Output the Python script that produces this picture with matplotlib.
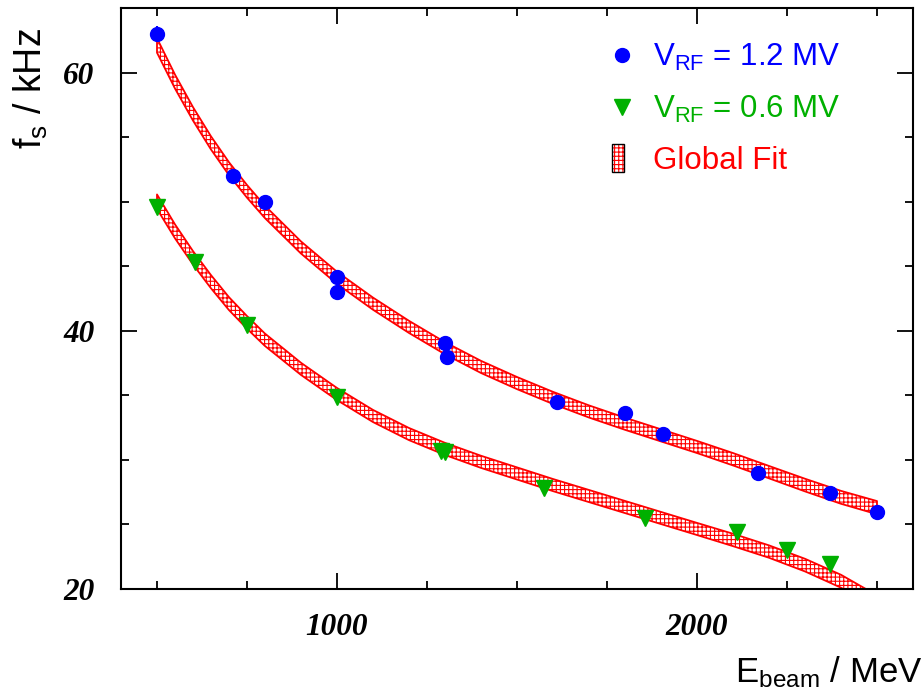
import matplotlib.pyplot as plt
from matplotlib.legend_handler import HandlerPatch, HandlerTuple
from matplotlib.patches import Rectangle

plt.rcParams["font.family"] = ["Liberation Sans", "DejaVu Sans"]
plt.rcParams["mathtext.fontset"] = "custom"
plt.rcParams["mathtext.rm"] = "Liberation Sans"
plt.rcParams["mathtext.it"] = "Liberation Sans:italic"
plt.rcParams["hatch.linewidth"] = 0.8

# measured synchrotron frequencies (MeV, kHz)
e_12 = [500, 710, 800, 1000, 1000, 1300, 1305, 1610, 1800, 1905, 2170, 2370, 2500]
fs_12 = [63.0, 52.0, 50.0, 44.2, 43.0, 39.05, 38.0, 34.5, 33.6, 32.0, 28.95, 27.45, 26.0]
err_12 = [0.6, 0.5, 0.5, 0.5, 0.5, 0.5, 0.5, 0.5, 0.5, 0.5, 0.5, 0.5, 0.5]

e_06 = [500, 605, 750, 1000, 1290, 1300, 1575, 1855, 2110, 2250, 2370]
fs_06 = [49.6, 45.3, 40.45, 34.85, 30.65, 30.6, 27.8, 25.5, 24.45, 23.05, 21.9]
err_06 = [0.5, 0.5, 0.5, 0.5, 0.5, 0.5, 0.5, 0.5, 0.5, 0.5, 0.5]

# global fit band
e_fit = [500, 550, 600, 650, 700, 750, 800, 900, 1000, 1100, 1200, 1300, 1400,
         1500, 1600, 1700, 1800, 1900, 2000, 2100, 2200, 2300, 2400, 2500]
fit_12 = [62.1, 59.3, 56.8, 54.55, 52.55, 50.8, 49.2, 46.45, 44.1, 42.1, 40.3, 38.65, 37.2,
          35.95, 34.8, 33.75, 32.8, 31.9, 31.0, 30.05, 29.05, 28.05, 27.1, 26.3]
fit_06 = [50.0, 47.7, 45.65, 43.8, 42.1, 40.65, 39.3, 37.05, 35.1, 33.4, 32.0, 30.85, 29.85,
          28.95, 28.05, 27.2, 26.35, 25.5, 24.65, 23.8, 22.9, 21.85, 20.6, 19.0]
fit_hw = [0.56, 0.54, 0.52, 0.51, 0.5, 0.49, 0.48, 0.47, 0.47, 0.47, 0.47, 0.47, 0.47,
          0.47, 0.47, 0.47, 0.47, 0.47, 0.47, 0.48, 0.48, 0.49, 0.5, 0.51]

x_major = [1000, 2000]
x_minor = [500, 750, 1250, 1500, 1750, 2250, 2500]
y_major = [20, 40, 60]
y_minor = [25, 30, 35, 45, 50, 55, 65]

BLUE = "#0000ff"
GREEN = "#00b000"
RED = "#ff0000"

fig = plt.figure(figsize=(9.24, 6.93), dpi=100)
ax = fig.add_axes([121 / 924, 1 - 589 / 693, 792 / 924, 581 / 693])

for f_fit in (fit_12, fit_06):
    lo = [f - h for f, h in zip(f_fit, fit_hw)]
    hi = [f + h for f, h in zip(f_fit, fit_hw)]
    ax.fill_between(e_fit, lo, hi, facecolor="none", edgecolor=RED,
                    hatch="++++", linewidth=1.3, zorder=2)

eb12 = ax.errorbar(e_12, fs_12, yerr=err_12, fmt="o", color=BLUE, ms=10,
                   elinewidth=1.5, capsize=0, zorder=3)
eb06 = ax.errorbar(e_06, fs_06, yerr=err_06, fmt="v", color=GREEN, ms=11,
                   elinewidth=1.5, capsize=0, zorder=3)

ax.set_xlim(400, 2600)
ax.set_ylim(20, 65)

tick_font = dict(family="Liberation Serif", weight="bold", style="italic", size=22.5)
ax.set_xticks(x_major)
ax.set_xticks(x_minor, minor=True)
ax.set_xticklabels([str(v) for v in x_major], fontdict=tick_font)
ax.set_yticks(y_major)
ax.set_yticks(y_minor, minor=True)
ax.set_yticklabels([str(v) for v in y_major], fontdict=tick_font)

ax.tick_params(which="both", direction="in", top=True, right=True, width=1.3)
ax.tick_params(which="major", length=11.5)
ax.tick_params(which="minor", length=5.5)
ax.tick_params(axis="x", pad=17.5)
ax.tick_params(axis="y", pad=19)
for sp in ax.spines.values():
    sp.set_linewidth(1.5)

fig.text(923 / 924, 1 - 682 / 693, r"E$_\mathregular{beam}$ / MeV", fontsize=25,
         ha="right", va="baseline")
fig.text(42 / 924, 1 - 28 / 693, r"f$_\mathregular{s}$ / kHz", fontsize=27,
         rotation=90, rotation_mode="anchor", ha="right", va="baseline")


def tall_box(legend, orig_handle, xdescent, ydescent, width, height, fontsize):
    w = 0.384 * fontsize
    h = 0.9 * fontsize
    return Rectangle((-xdescent + (width - w) / 2 - 3, -ydescent + (height - h) / 2), w, h)


box_fill = Rectangle((0, 0), 1, 1, facecolor="none", edgecolor=RED, hatch="++++", linewidth=0)
box_edge = Rectangle((0, 0), 1, 1, facecolor="none", edgecolor="black", linewidth=1.0)

ax.legend(
    [eb12[0], eb06[0], (box_fill, box_edge)],
    [r"V$_\mathregular{RF}$ = 1.2 MV", r"V$_\mathregular{RF}$ = 0.6 MV", "Global Fit"],
    handler_map={Rectangle: HandlerPatch(patch_func=tall_box), tuple: HandlerTuple(ndivide=1)},
    loc="upper left", bbox_to_anchor=(606.4 / 924, 1 - 41.5 / 693), bbox_transform=fig.transFigure,
    frameon=False, fontsize=22.5, borderpad=0, borderaxespad=0, handlelength=1.0,
    handletextpad=0.49, labelspacing=0.68, numpoints=1,
    labelcolor=[BLUE, GREEN, RED],
)

fig.savefig("out.png", dpi=100)
